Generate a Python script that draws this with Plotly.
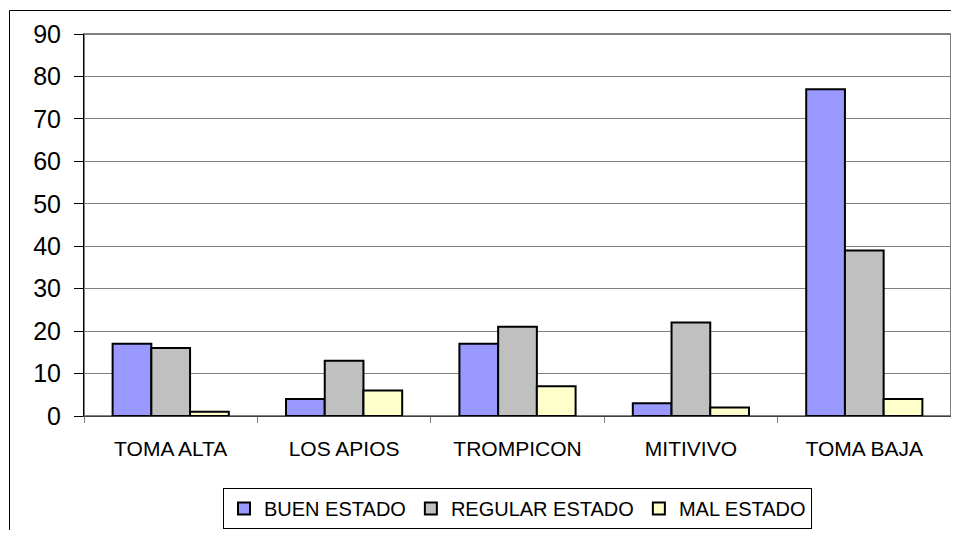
import plotly.graph_objects as go

categories = ["TOMA ALTA", "LOS APIOS", "TROMPICON", "MITIVIVO", "TOMA BAJA"]
series_names = ["BUEN ESTADO", "REGULAR ESTADO", "MAL ESTADO"]
buen = [17, 4, 17, 3, 77]
regular = [16, 13, 21, 22, 39]
mal = [1, 6, 7, 2, 4]
y_ticks = [0, 10, 20, 30, 40, 50, 60, 70, 80, 90]

colors = ["#9999FF", "#C0C0C0", "#FFFFCC"]
FONT = "Arial, Liberation Sans, sans-serif"

fig = go.Figure()
for name, vals, col in zip(series_names, [buen, regular, mal], colors):
    fig.add_trace(go.Bar(
        x=categories, y=vals, name=name,
        marker=dict(color=col, line=dict(color="black", width=2)),
    ))

# page has an 8px body margin; size figure so the page does not overflow
OFF = 8
W, H = 959 - 2 * OFF, 538 - 2 * OFF
L, R, T, B = 84 - OFF, 0, 34 - OFF, H - (416 - OFF)
pw, ph = W - L - R, H - T - B

def px2x(p):  # page pixel -> paper x
    return (p - OFF - L) / pw

def py2y(p):  # page pixel -> paper y
    return (H - B - (p - OFF)) / ph

fig.update_layout(
    width=W, height=H,
    margin=dict(l=L, r=R, t=T, b=B, pad=0, autoexpand=False),
    paper_bgcolor="white", plot_bgcolor="white",
    barmode="group", bargap=0.33, bargroupgap=0,
    font=dict(family=FONT, color="black"),
    showlegend=True,
    legend=dict(
        orientation="h", x=0.5, xanchor="center", y=py2y(488), yanchor="top",
        bordercolor="black", borderwidth=1, bgcolor="white",
        font=dict(size=20, family=FONT), itemwidth=30, traceorder="normal",
    ),
    xaxis=dict(
        type="category", showgrid=False, showline=True, linecolor="#404040", linewidth=1,
        ticks="outside", tickson="boundaries", ticklen=6, tickcolor="#808080",
        tickfont=dict(size=21, family=FONT), ticklabelstandoff=14,
        fixedrange=True, automargin=False,
    ),
    yaxis=dict(
        range=[0, 90], tickvals=y_ticks, showgrid=True, gridcolor="#808080", gridwidth=1,
        zeroline=False, showline=True, linecolor="black", linewidth=1,
        ticks="outside", ticklen=9, tickcolor="black",
        tickfont=dict(size=25, family=FONT), ticklabelstandoff=8, automargin=False,
    ),
    shapes=[
        # plot area border (gray, top & right)
        dict(type="rect", xref="paper", yref="paper", x0=0, x1=1, y0=0, y1=1,
             line=dict(color="#808080", width=2), layer="below"),
        # outer chart frame (cropped on right/bottom)
        dict(type="line", xref="paper", yref="paper",
             x0=px2x(9.5), x1=px2x(9.5), y0=py2y(10.5), y1=py2y(560),
             line=dict(color="black", width=1)),
        dict(type="line", xref="paper", yref="paper",
             x0=px2x(9.5), x1=px2x(980), y0=py2y(10.5), y1=py2y(10.5),
             line=dict(color="black", width=1)),
    ],
)

fig.write_html("out.html")
